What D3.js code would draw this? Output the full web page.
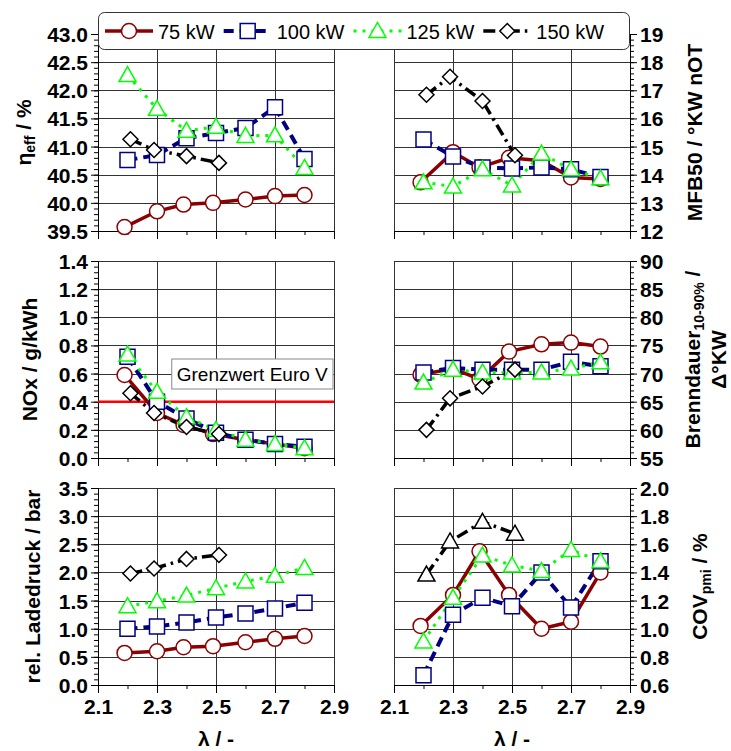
<!DOCTYPE html>
<html>
<head>
<meta charset="utf-8">
<script src="https://cdn.jsdelivr.net/npm/d3@7"></script>
<style>
  body { margin: 0; background: #fff; }
  text { font-family: "Liberation Sans", Arial, sans-serif; }
</style>
</head>
<body>
<svg id="chart" width="731" height="751"></svg>
<script>
// ---- data ---------------------------------------------------------------
const seriesNames = ["75 kW", "100 kW", "125 kW", "150 kW"];

// air ratio lambda at each operating point
const lambda75  = [2.19, 2.30, 2.39, 2.49, 2.60, 2.70, 2.80];
const lambda100 = [2.20, 2.30, 2.40, 2.50, 2.60, 2.70, 2.80];
const lambda125 = [2.20, 2.30, 2.40, 2.50, 2.60, 2.70, 2.80];
const lambda150 = [2.21, 2.29, 2.40, 2.51];

// effective efficiency / %
const eta75  = [39.57, 39.85, 39.97, 40.00, 40.06, 40.12, 40.14];
const eta100 = [40.76, 40.85, 41.15, 41.24, 41.33, 41.70, 40.78];
const eta125 = [42.27, 41.67, 41.28, 41.35, 41.19, 41.20, 40.62];
const eta150 = [41.13, 40.94, 40.83, 40.71];

// MFB50 / °KW nOT
const mfb75  = [13.73, 14.80, 14.26, 14.60, 14.50, 13.90, 13.85];
const mfb100 = [15.25, 14.65, 14.26, 14.22, 14.26, 14.19, 13.92];
const mfb125 = [13.73, 13.58, 14.19, 13.62, 14.75, 14.19, 13.87];
const mfb150 = [16.84, 17.48, 16.62, 14.69];

// NOx / g/kWh
const nox75  = [0.59, 0.32, 0.235, 0.17, 0.13, 0.10, 0.07];
const nox100 = [0.72, 0.40, 0.28, 0.18, 0.13, 0.10, 0.08];
const nox125 = [0.735, 0.47, 0.29, 0.20, 0.13, 0.10, 0.07];
const nox150 = [0.46, 0.32, 0.22, 0.17];
const noxLimit = 0.4;
const noxLimitLabel = "Grenzwert Euro V";

// combustion duration 10-90 % / °KW
const burn75  = [69.8, 70.9, 69.0, 73.9, 75.2, 75.5, 74.8];
const burn100 = [70.2, 71.0, 70.7, 70.7, 70.7, 72.1, 71.3];
const burn125 = [68.4, 70.7, 70.2, 70.2, 70.2, 70.9, 72.0];
const burn150 = [60.0, 65.6, 67.7, 70.7];

// relative boost pressure / bar
const boost75  = [0.57, 0.60, 0.67, 0.69, 0.76, 0.82, 0.87];
const boost100 = [1.00, 1.04, 1.11, 1.20, 1.27, 1.36, 1.46];
const boost125 = [1.40, 1.49, 1.59, 1.72, 1.84, 1.94, 2.08];
const boost150 = [1.98, 2.07, 2.24, 2.31];

// COV of pmi / %
const cov75  = [1.02, 1.24, 1.55, 1.24, 1.00, 1.05, 1.40];
const cov100 = [0.67, 1.10, 1.22, 1.16, 1.40, 1.15, 1.48];
const cov125 = [0.91, 1.22, 1.52, 1.45, 1.41, 1.56, 1.48];
const cov150 = [1.385, 1.62, 1.76, 1.675];

// axis settings
const xDomain = [2.1, 2.9];
const xTickLabels = [2.1, 2.3, 2.5, 2.7, 2.9];

// ---- styles ---------------------------------------------------------------
const styles = [
  { color: "#8b0000", width: 3.5, dash: null,          marker: "circle"   },
  { color: "#000080", width: 4,   dash: "10,6",        marker: "square"   },
  { color: "#00ff00", width: 3,   dash: "3,6",         marker: "triangle" },
  { color: "#000000", width: 3.5, dash: "12,5,2.5,5",  marker: "diamond"  }
];
const lambdas = [lambda75, lambda100, lambda125, lambda150];

const panels = [
  { col: 0, row: 0, domain: [39.5, 43.0], major: 0.5, minor: 0.1, fmt: ".1f",
    values: [eta75, eta100, eta125, eta150] },
  { col: 1, row: 0, domain: [12, 19], major: 1, minor: 0.2, fmt: "d",
    values: [mfb75, mfb100, mfb125, mfb150] },
  { col: 0, row: 1, domain: [0, 1.4], major: 0.2, minor: 0.04, fmt: ".1f",
    values: [nox75, nox100, nox125, nox150], limit: noxLimit },
  { col: 1, row: 1, domain: [55, 90], major: 5, minor: 1, fmt: "d",
    values: [burn75, burn100, burn125, burn150] },
  { col: 0, row: 2, domain: [0, 3.5], major: 0.5, minor: 0.1, fmt: ".1f",
    values: [boost75, boost100, boost125, boost150] },
  { col: 1, row: 2, domain: [0.6, 2.0], major: 0.2, minor: 0.04, fmt: ".1f",
    values: [cov75, cov100, cov125, cov150], markerOverride: { 3: "triangle" } }
];

const colX = [[98, 334], [394, 630]];
const rowTop = [34, 261, 488];
const panelH = 197;

const svg = d3.select("#chart");
const gridColor = "#333";
const tickFont = 21;

function markerPath(type) {
  switch (type) {
    case "circle":   return d3.symbol().type(d3.symbolCircle).size(Math.PI * 7.5 * 7.5)();
    case "square":   return "M-7.5,-7.5H7.5V7.5H-7.5Z";
    case "triangle": return "M0,-8.5L8.5,6.5H-8.5Z";
    case "diamond":  return "M0,-7.5L7.5,0L0,7.5L-7.5,0Z";
  }
}

function steps(lo, hi, step) {
  const n = Math.round((hi - lo) / step);
  return d3.range(n + 1).map(i => +(lo + i * step).toFixed(6));
}

panels.forEach(p => {
  const [x0, x1] = colX[p.col];
  const y0 = rowTop[p.row], y1 = y0 + panelH;
  const x = d3.scaleLinear().domain(xDomain).range([x0, x1]);
  const y = d3.scaleLinear().domain(p.domain).range([y1, y0]);
  const g = svg.append("g");

  // grid
  const yMajors = steps(p.domain[0], p.domain[1], p.major);
  g.append("g").selectAll("line").data(yMajors).join("line")
    .attr("x1", x0).attr("x2", x1)
    .attr("y1", d => Math.round(y(d)) + 0.5).attr("y2", d => Math.round(y(d)) + 0.5)
    .attr("stroke", gridColor).attr("stroke-width", 1);
  g.append("g").selectAll("line").data(xTickLabels).join("line")
    .attr("x1", d => Math.round(x(d)) + 0.5).attr("x2", d => Math.round(x(d)) + 0.5)
    .attr("y1", y0).attr("y2", y1)
    .attr("stroke", gridColor).attr("stroke-width", 1);

  // y axis with outward ticks
  const yMinors = steps(p.domain[0], p.domain[1], p.minor);
  const onLeft = p.col === 0;
  const yAxis = (onLeft ? d3.axisLeft(y) : d3.axisRight(y))
    .tickValues(yMinors).tickSize(4).tickFormat("");
  const ax = g.append("g")
    .attr("transform", `translate(${onLeft ? x0 : x1},0)`)
    .call(yAxis);
  ax.select(".domain").attr("stroke", "#000");
  ax.selectAll(".tick line").attr("stroke", "#000");
  const yMajAxis = (onLeft ? d3.axisLeft(y) : d3.axisRight(y))
    .tickValues(yMajors).tickSize(7).tickPadding(3).tickFormat(d3.format(p.fmt));
  const axm = g.append("g")
    .attr("transform", `translate(${onLeft ? x0 : x1},0)`)
    .call(yMajAxis);
  axm.select(".domain").remove();
  axm.selectAll(".tick line").attr("stroke", "#000");
  axm.selectAll(".tick text")
    .style("font-size", tickFont + "px").style("font-weight", "bold")
    .attr("fill", "#000").attr("dy", "0.36em");

  // x axis ticks
  const xMinors = steps(2.1, 2.9, 0.1);
  const xa = g.append("g").attr("transform", `translate(0,${y1})`)
    .call(d3.axisBottom(x).tickValues(xMinors).tickSize(4).tickFormat(""));
  xa.select(".domain").attr("stroke", "#000");
  xa.selectAll(".tick line").attr("stroke", "#000");
  const xm = g.append("g").attr("transform", `translate(0,${y1})`)
    .call(d3.axisBottom(x).tickValues(xTickLabels).tickSize(8).tickPadding(6)
      .tickFormat(p.row === 2 ? d3.format(".1f") : ""));
  xm.select(".domain").remove();
  xm.selectAll(".tick line").attr("stroke", "#000");
  xm.selectAll(".tick text")
    .style("font-size", tickFont + "px").style("font-weight", "bold").attr("fill", "#000");

  // limit line and its label
  if (p.limit !== undefined) {
    g.append("line")
      .attr("x1", x0).attr("x2", x1)
      .attr("y1", y(p.limit)).attr("y2", y(p.limit))
      .attr("stroke", "#ff0000").attr("stroke-width", 2.5);
    const bx = x(2.35), by = y(0.7);
    g.append("rect").attr("x", bx).attr("y", by - 0.5)
      .attr("width", x(2.9) - bx - 1).attr("height", 30)
      .attr("fill", "#fff").attr("stroke", "#888").attr("stroke-width", 1);
    g.append("text").attr("x", bx + 5).attr("y", by + 21)
      .style("font-size", "19px").attr("fill", "#000").text(noxLimitLabel);
  }

  // series lines
  p.values.forEach((vals, si) => {
    const st = styles[si];
    const pts = vals.map((v, i) => [lambdas[si][i], v]);
    g.append("path")
      .attr("d", d3.line().x(d => x(d[0])).y(d => y(d[1]))(pts))
      .attr("fill", "none").attr("stroke", st.color)
      .attr("stroke-width", st.width)
      .attr("stroke-dasharray", st.dash);
  });
  // markers on top
  p.values.forEach((vals, si) => {
    const st = styles[si];
    const type = (p.markerOverride && p.markerOverride[si]) || st.marker;
    const pts = vals.map((v, i) => [lambdas[si][i], v]);
    g.append("g").selectAll("path").data(pts).join("path")
      .attr("transform", d => `translate(${x(d[0])},${y(d[1])})`)
      .attr("d", markerPath(type))
      .attr("fill", "#fff").attr("stroke", st.color).attr("stroke-width", 1.5);
  });

  // x axis title on bottom row
  if (p.row === 2) {
    svg.append("text").attr("x", (x0 + x1) / 2).attr("y", 746)
      .attr("text-anchor", "middle")
      .style("font-size", "21px").style("font-weight", "bold")
      .text("λ / -");
  }
});

// ---- axis titles ----------------------------------------------------------
function vTitle(xBase, yc, parts) {
  const t = svg.append("text")
    .attr("transform", `translate(${xBase},${yc}) rotate(-90)`)
    .attr("text-anchor", "middle")
    .style("font-size", "21px").style("font-weight", "bold").attr("fill", "#000");
  parts.forEach(pt => {
    const s = t.append("tspan").text(pt.t);
    if (pt.sub) s.style("font-size", "14px").attr("baseline-shift", "-30%");
  });
  return t;
}
const rowMid = r => rowTop[r] + panelH / 2;
vTitle(31, rowMid(0), [{ t: "η" }, { t: "eff", sub: true }, { t: " / %" }]);
vTitle(37, rowMid(1), [{ t: "NOx / g/kWh" }]);
vTitle(40, rowMid(2), [{ t: "rel. Ladedruck / bar" }]);
vTitle(702, rowMid(0), [{ t: "MFB50 / °KW nOT" }]);
vTitle(700, rowMid(1), [{ t: "Brenndauer" }, { t: "10-90%", sub: true }, { t: " /" }]);
vTitle(726, rowMid(1), [{ t: "Δ°KW" }]);
vTitle(707, rowMid(2), [{ t: "COV" }, { t: "pmi", sub: true }, { t: " / %" }]);

// ---- legend ---------------------------------------------------------------
const lg = svg.append("g");
lg.append("rect").attr("x", 98.5).attr("y", 12.5).attr("width", 531).attr("height", 37)
  .attr("rx", 6).attr("fill", "#fff").attr("stroke", "#333").attr("stroke-width", 1);
let cx = 105;
const ly = 31;
seriesNames.forEach((name, si) => {
  const st = styles[si];
  const sw = 48;
  lg.append("line").attr("x1", cx).attr("x2", cx + sw).attr("y1", ly).attr("y2", ly)
    .attr("stroke", st.color).attr("stroke-width", st.width)
    .attr("stroke-dasharray", st.dash);
  lg.append("path").attr("transform", `translate(${cx + sw / 2},${ly})`)
    .attr("d", markerPath(st.marker))
    .attr("fill", "#fff").attr("stroke", st.color).attr("stroke-width", 1.5);
  const t = lg.append("text").attr("x", cx + sw + 5).attr("y", ly + 8)
    .style("font-size", "20px").attr("fill", "#000").text(name);
  cx += sw + 5 + t.node().getComputedTextLength() + 9;
});
</script>
</body>
</html>
